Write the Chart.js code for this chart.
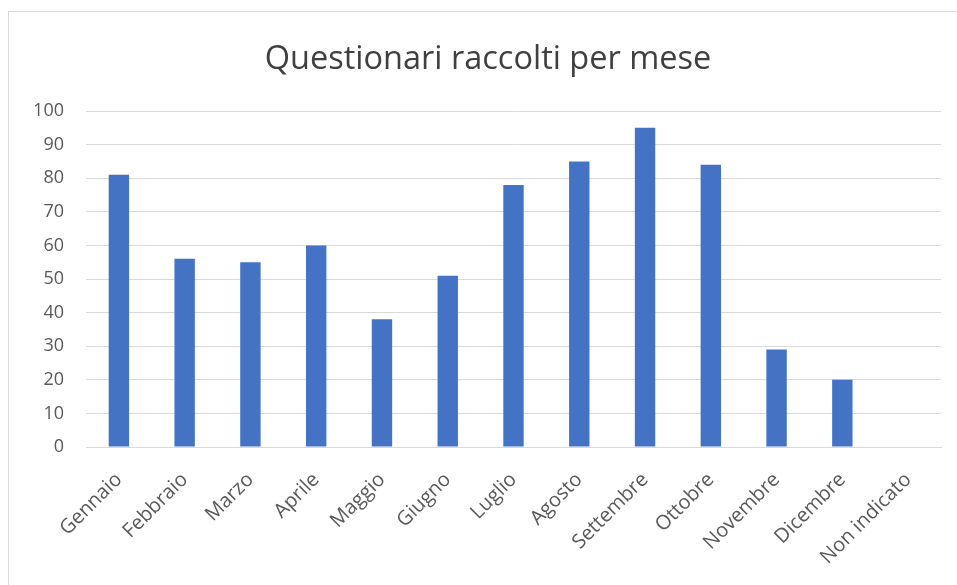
<!DOCTYPE html>
<html>
<head>
<meta charset="utf-8">
<script src="https://cdn.jsdelivr.net/npm/chart.js@4.4.1/dist/chart.umd.min.js"></script>
<style>
    html, body { margin: 0; padding: 0; background: #fff; overflow: hidden; }
    #wrap {
        position: absolute; left: 8px; top: 11px;
        width: 960px; height: 580px;
        border: 1px solid #d9d9d9; box-sizing: border-box;
    }
</style>
</head>
<body>
<div id="wrap"><canvas id="questChart"></canvas></div>
<script>
// Data
const months = ["Gennaio", "Febbraio", "Marzo", "Aprile", "Maggio", "Giugno", "Luglio",
    "Agosto", "Settembre", "Ottobre", "Novembre", "Dicembre", "Non indicato"];
const questionari = [81, 56, 55, 60, 38, 51, 78, 85, 95, 84, 29, 20, 0];
const yTicks = [0, 10, 20, 30, 40, 50, 60, 70, 80, 90, 100];

const textColor = "#595959";
const gridColor = "#d9d9d9";

drawChart();

function drawChart() {
    const ctx = document.getElementById("questChart").getContext("2d");

    new Chart(ctx, {
        type: "bar",
        data: {
            labels: months,
            datasets: [{
                label: "Questionari",
                data: questionari,
                backgroundColor: "#4472c4",
                borderWidth: 0,
                categoryPercentage: 1,
                barPercentage: 0.31
            }]
        },
        options: {
            responsive: true,
            maintainAspectRatio: false,
            animation: false,
            layout: { padding: 0 },
            plugins: {
                legend: { display: false },
                tooltip: { enabled: false },
                title: {
                    display: true,
                    text: "Questionari raccolti per mese",
                    color: "#404040",
                    font: { family: "'Open Sans', sans-serif", size: 32.5, weight: "normal" },
                    padding: { top: 28, bottom: 32 }
                }
            },
            scales: {
                x: {
                    grid: { display: false, drawTicks: false },
                    border: { display: true, color: gridColor, width: 1 },
                    ticks: {
                        color: textColor,
                        font: { family: "'Open Sans', sans-serif", size: 20 },
                        minRotation: 45,
                        maxRotation: 45,
                        padding: 21
                    },
                    afterFit: (axis) => { axis.height = 143; }
                },
                y: {
                    min: 0,
                    max: 100,
                    afterBuildTicks: (axis) => { axis.ticks = yTicks.map(v => ({ value: v })); },
                    grid: { color: gridColor, lineWidth: 1, drawTicks: false },
                    border: { display: false },
                    ticks: {
                        color: textColor,
                        font: { family: "'Open Sans', sans-serif", size: 18 },
                        padding: 22
                    },
                    afterFit: (axis) => { axis.width = 77; }
                },
                // empty right-hand axis, only to leave the right margin
                yRight: {
                    position: "right",
                    grid: { display: false, drawTicks: false },
                    border: { display: false },
                    ticks: { display: false },
                    afterFit: (axis) => { axis.width = 26; }
                }
            }
        }
    });
}
</script>
</body>
</html>
